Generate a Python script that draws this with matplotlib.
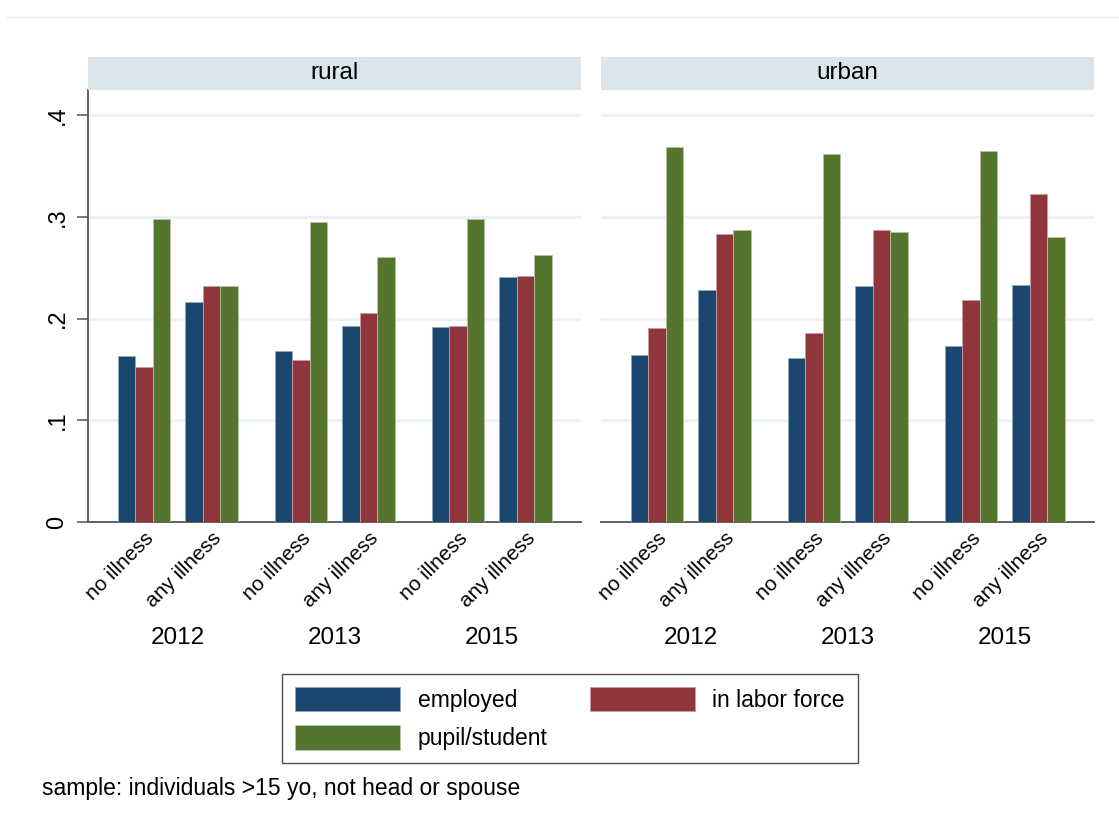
import matplotlib.pyplot as plt
import numpy as np
from matplotlib.patches import Rectangle
from matplotlib.lines import Line2D

plt.rcParams['font.family'] = ['Liberation Sans', 'DejaVu Sans']

years = ['2012', '2013', '2015']
illness = ['no illness', 'any illness']
series = ['employed', 'in labor force', 'pupil/student']
colors = ['#1a476f', '#90353b', '#55752f']
edges = ['#8fa6bb', '#c9a0a3', '#b3c4a0']

# order: 2012 no, 2012 any, 2013 no, 2013 any, 2015 no, 2015 any
rural_employed = [0.163, 0.216, 0.168, 0.193, 0.192, 0.241]
rural_labor = [0.152, 0.232, 0.159, 0.206, 0.193, 0.242]
rural_pupil = [0.298, 0.232, 0.295, 0.261, 0.298, 0.263]
urban_employed = [0.164, 0.228, 0.161, 0.232, 0.173, 0.233]
urban_labor = [0.191, 0.283, 0.186, 0.287, 0.218, 0.323]
urban_pupil = [0.369, 0.287, 0.362, 0.285, 0.365, 0.280]

panels = [('rural', [rural_employed, rural_labor, rural_pupil]),
          ('urban', [urban_employed, urban_labor, urban_pupil])]

W, H = 1119, 827
fig = plt.figure(figsize=(W / 100, H / 100), dpi=100)

# faint outer border line at top
fig.add_artist(Line2D([7 / W, 1.0], [1 - 17 / H, 1 - 17 / H], color='#e3ecf0', lw=1))

# group centres in bar-width units
centers = []
for yi in range(len(years)):
    for ii in range(len(illness)):
        centers.append(3.2 + 8.97 * yi + 3.86 * ii)
centers = np.array(centers)

ax_left_px = [88, 601]
ax_w_px = 493
bottom_px, top_px = 522, 90
ymax = 0.4248

handles = []
for pi, (name, vals) in enumerate(panels):
    ax = fig.add_axes([ax_left_px[pi] / W, (H - bottom_px) / H,
                       ax_w_px / W, (bottom_px - top_px) / H])
    for si, v in enumerate(vals):
        b = ax.bar(centers + (si - 1), v, width=1.0, color=colors[si],
                   edgecolor=edges[si], linewidth=0.6, zorder=3, label=series[si])
        if pi == 0:
            handles.append(b)
    ax.set_xlim(0, ax_w_px / 17.5)
    ax.set_ylim(0, ymax)
    ax.set_yticks([0, 0.1, 0.2, 0.3, 0.4])
    for y in [0.1, 0.2, 0.3, 0.4]:
        ax.axhline(y, color='#eaf2f3', lw=2.2, zorder=1)
    for s in ['top', 'right']:
        ax.spines[s].set_visible(False)
    ax.spines['bottom'].set_color('#555555')
    ax.spines['bottom'].set_linewidth(1.3)
    ax.set_xticks(centers)
    ax.set_xticklabels(illness * len(years), rotation=45, ha='right', va='top',
                       rotation_mode='anchor', fontsize=15)
    ax.tick_params(axis='x', length=0, pad=5)
    if pi == 0:
        ax.spines['left'].set_color('#555555')
        ax.spines['left'].set_linewidth(1.3)
        ax.set_yticklabels(['0', '.1', '.2', '.3', '.4'], rotation=90, va='center',
                           fontsize=17)
        ax.tick_params(axis='y', length=8, width=1.1, color='#555555', pad=6)
    else:
        ax.spines['left'].set_visible(False)
        ax.tick_params(axis='y', length=0, labelleft=False)
    for yi, yr in enumerate(years):
        xc = (centers[2 * yi] + centers[2 * yi + 1]) / 2
        ax.text(xc, -(638 - bottom_px) / (bottom_px - top_px), yr,
                transform=ax.get_xaxis_transform(), ha='center', va='center',
                fontsize=17.5)
    # strip header
    fig.add_artist(Rectangle((ax_left_px[pi] / W, 1 - 90 / H), ax_w_px / W, 33 / H,
                             transform=fig.transFigure, facecolor='#d9e6eb',
                             edgecolor='none'))
    fig.text((ax_left_px[pi] + ax_w_px / 2) / W, 1 - 73 / H, name,
             ha='center', va='center', fontsize=17.5)

order = [handles[0], handles[2], handles[1]]
labels = [series[0], series[2], series[1]]
leg = fig.legend(order, labels, ncol=2, loc='center',
                 bbox_to_anchor=(570 / W, 1 - 718.5 / H), fontsize=16.5,
                 frameon=True, fancybox=False, edgecolor='#222222',
                 handlelength=4.6, handleheight=1.25, handletextpad=0.75,
                 columnspacing=1.85, labelspacing=0.6, borderpad=0.55)
leg.get_frame().set_linewidth(1.0)

fig.text(42 / W, 1 - 789 / H, 'sample: individuals >15 yo, not head or spouse',
         ha='left', va='center', fontsize=16.5)

plt.savefig('out.png', dpi=100)
